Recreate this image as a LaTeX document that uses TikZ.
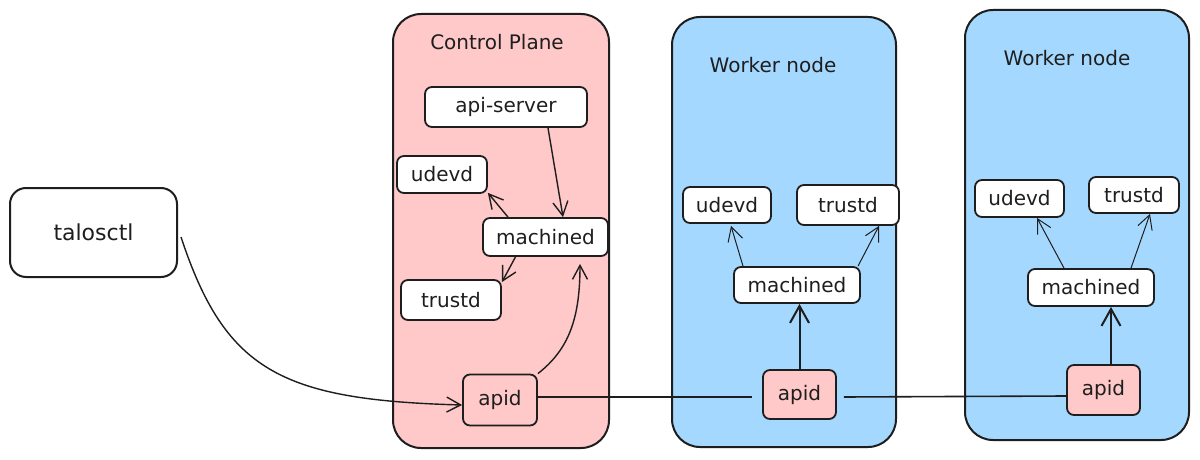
\documentclass[tikz,border=0pt]{standalone}
\usepackage{fontspec}
\setmainfont{DejaVu Sans}
\usetikzlibrary{arrows.meta}
\definecolor{ink}{HTML}{1E1E1E}
\definecolor{cppink}{HTML}{FFC9C9}
\definecolor{wblue}{HTML}{A5D8FF}
\tikzset{
  container/.style={draw=ink, line width=2pt, rounded corners=28pt, inner sep=0pt},
  cpbox/.style={container, fill=cppink},
  wkbox/.style={container, fill=wblue},
  title/.style={text=ink, font=\fontsize{20}{24}\selectfont},
  svc/.style={draw=ink, line width=1.8pt, fill=white, rounded corners=7pt, inner sep=0pt, text=ink,
              font=\fontsize{20}{24}\selectfont},
  apidbox/.style={svc, fill=cppink},
  thinarr/.style={draw=ink, line width=1pt, -{Straight Barb[length=14pt,width=15pt,line width=1pt]}},
  midarr/.style={draw=ink, line width=1.4pt, -{Straight Barb[length=14pt,width=15pt,line width=1.4pt]}},
  thickarr/.style={draw=ink, line width=2pt, -{Straight Barb[length=17pt,width=19pt,line width=2pt]}},
  link/.style={draw=ink, line width=1.6pt}
}
\begin{document}
\begin{tikzpicture}[x=1pt, y=-1pt]
\useasboundingbox (0,0) rectangle (1200,460);
\fill[white] (0,0) rectangle (1200,460);

% containers
\node[cpbox, minimum width=216pt, minimum height=434pt] (cp) at (501,231) {};
\node[wkbox, minimum width=224pt, minimum height=430pt] (w1) at (784,232) {};
\node[wkbox, minimum width=224pt, minimum height=430pt] (w2) at (1077,225) {};

\node[title] (cpt) at (497,42) {Control Plane};
\node[title] (w1t) at (773,65) {Worker node};
\node[title] (w2t) at (1067,58) {Worker node};

% talosctl
\node[svc, line width=2pt, rounded corners=16pt, minimum width=167pt, minimum height=89pt,
      font=\fontsize{22}{26}\selectfont] (tc) at (93.5,232.5) {talosctl};

% control plane services
\node[svc, minimum width=162pt, minimum height=40pt] (api) at (506,107) {api-server};
\node[svc, minimum width=90pt, minimum height=37pt] (u0) at (442,174.5) {udevd};
\node[svc, minimum width=125pt, minimum height=38pt] (m0) at (545.5,237) {machined};
\node[svc, minimum width=100pt, minimum height=40pt] (t0) at (451,300) {trustd};
\node[apidbox, minimum width=74pt, minimum height=51pt] (a0) at (500,400) {apid};

% worker 1 services
\node[svc, minimum width=88pt, minimum height=36pt] (u1) at (727,205) {udevd};
\node[svc, minimum width=102pt, minimum height=40pt] (t1) at (848,205) {trustd};
\node[svc, minimum width=126pt, minimum height=36pt] (m1) at (797,285) {machined};
\node[apidbox, minimum width=73pt, minimum height=49pt] (a1) at (799.5,394.5) {apid};

% worker 2 services
\node[svc, minimum width=89pt, minimum height=37pt] (u2) at (1019.5,198.5) {udevd};
\node[svc, minimum width=90pt, minimum height=36pt] (t2) at (1134,195) {trustd};
\node[svc, minimum width=126pt, minimum height=37pt] (m2) at (1091,287.5) {machined};
\node[apidbox, minimum width=73pt, minimum height=50pt] (a2) at (1103.5,390) {apid};

% talosctl -> apid
\draw[midarr] ([xshift=3pt,yshift=-4.5pt]tc.east) .. controls (225,370) and (280,400) .. ([yshift=-5pt]a0.west);

% control plane arrows
\draw[midarr] ([xshift=42pt]api.south) -- ([xshift=17.5pt]m0.north);
\draw[midarr] ([xshift=-37.5pt]m0.north) -- ([yshift=1pt]u0.south east);
\draw[midarr] ([xshift=-30pt]m0.south) -- ([yshift=-3pt]t0.north east);
\draw[midarr] (a0.north east) .. controls (568,350) and (580,320) .. ([xshift=34.5pt,yshift=-7pt]m0.south);

% links between apids
\draw[link] ([yshift=3pt]a0.east) -- ([xshift=-10pt,yshift=-2.5pt]a1.west);
\draw[link] ([xshift=7pt,yshift=-2.5pt]a1.east) -- ([yshift=-6pt]a2.west);

% worker 1 arrows
\draw[thinarr] ([xshift=-54pt]m1.north) -- ([xshift=4pt,yshift=-2pt]u1.south);
\draw[thinarr] ([xshift=61pt]m1.north) -- ([xshift=31pt]t1.south);
\draw[thickarr] (a1.north) -- (a1.north |- m1.south);

% worker 2 arrows
\draw[thinarr] ([xshift=-27pt]m2.north) -- ([xshift=17.5pt]u2.south);
\draw[thinarr] ([xshift=40pt]m2.north) -- ([xshift=16pt]t2.south);
\draw[thickarr] ([xshift=7.5pt]a2.north) -- ([xshift=7.5pt]a2.north |- m2.south);
\end{tikzpicture}
\end{document}
